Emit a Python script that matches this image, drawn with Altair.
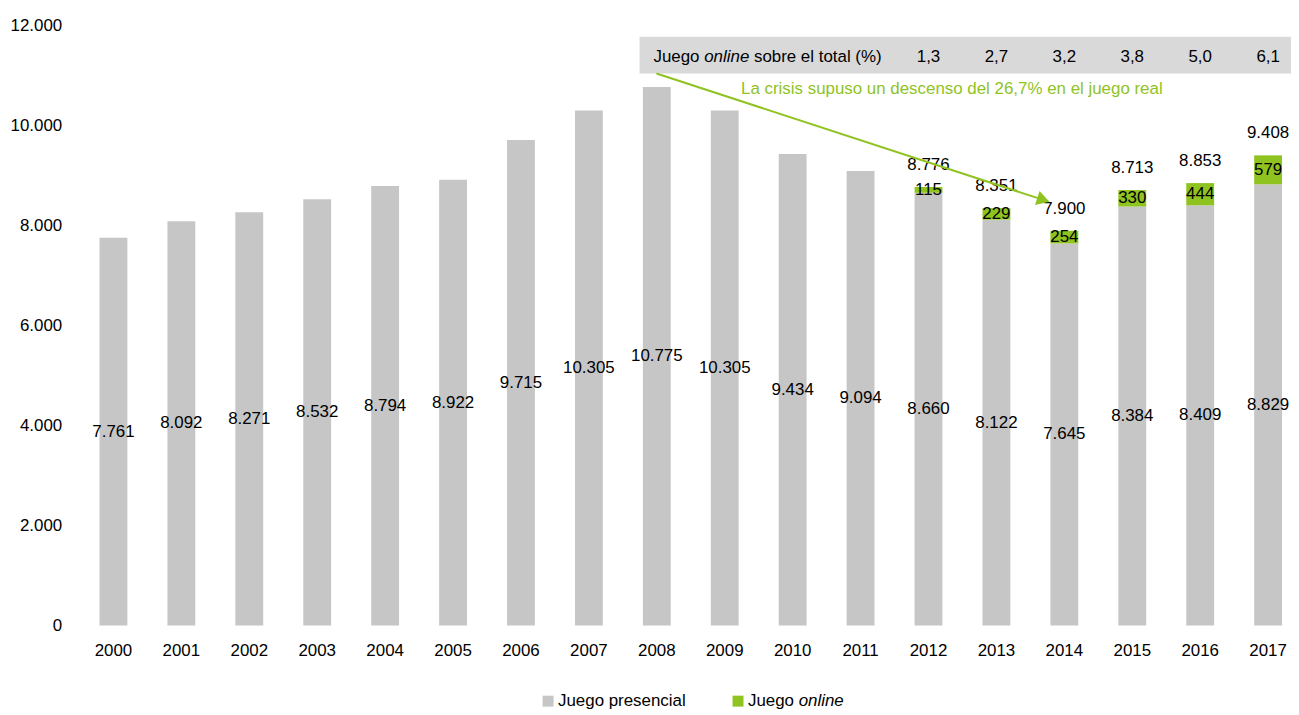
import altair as alt
import pandas as pd

years = [str(y) for y in range(2000, 2018)]
presencial = [7761, 8092, 8271, 8532, 8794, 8922, 9715, 10305, 10775, 10305,
              9434, 9094, 8660, 8122, 7645, 8384, 8409, 8829]
online = [0] * 12 + [115, 229, 254, 330, 444, 579]
totales = [None] * 12 + [8776, 8351, 7900, 8713, 8853, 9408]
pct_online = [None] * 12 + ["1,3", "2,7", "3,2", "3,8", "5,0", "6,1"]

GRAY = "#c6c6c6"
GREEN = "#8fc31f"
NARROW = "Liberation Sans"
REG = "Liberation Sans"
FS = 17

def fmt(v):
    return f"{v:,}".replace(",", ".")

rows = []
for y, p, o in zip(years, presencial, online):
    rows.append({"year": y, "tipo": "Juego presencial", "value": p, "ord": 0})
    if o > 0:
        rows.append({"year": y, "tipo": "Juego online", "value": o, "ord": 1})
bars_df = pd.DataFrame(rows)

lab = pd.DataFrame({
    "year": years,
    "presencial": presencial,
    "online": online,
    "pmid": [p / 2 for p in presencial],
    "omid": [p + o / 2 for p, o in zip(presencial, online)],
    "top": [p + o for p, o in zip(presencial, online)],
    "plab": [fmt(p) for p in presencial],
    "olab": [fmt(o) if o > 0 else "" for o in online],
    "tlab": [fmt(t) if t else "" for t in totales],
    "pct": [p if p else "" for p in pct_online],
})

W, H = 1207, 603

xenc = alt.X("year:O", title=None,
             scale=alt.Scale(paddingInner=0.59, paddingOuter=0.132),
             axis=alt.Axis(labelAngle=0, domain=False, ticks=False,
                           labelFont=NARROW, labelFontSize=FS, labelColor="black",
                           labelPadding=17))
yscale = alt.Scale(domain=[0, 12000], nice=False)

base = alt.Chart(bars_df)
bars = base.mark_bar().encode(
    x=xenc,
    y=alt.Y("value:Q", stack="zero", scale=yscale, title=None,
            axis=alt.Axis(values=list(range(0, 12001, 2000)), grid=False,
                          domain=False, ticks=False, labelFont=REG,
                          labelFontSize=17, labelColor="black", labelPadding=29,
                          labelExpr="replace(format(datum.value, ',d'), ',', '.')")),
    color=alt.Color("tipo:N", legend=None,
                    scale=alt.Scale(domain=["Juego presencial", "Juego online"],
                                    range=[GRAY, GREEN])),
    order=alt.Order("ord:Q"),
)

lbase = alt.Chart(lab)
plabels = lbase.mark_text(font=NARROW, fontSize=FS, color="black").encode(
    x="year:O", y=alt.Y("pmid:Q", scale=yscale), text="plab:N")
olabels = lbase.transform_filter("datum.online > 0").mark_text(
    font=NARROW, fontSize=FS, color="black").encode(
    x="year:O", y=alt.Y("omid:Q", scale=yscale), text="olab:N")
tlabels = lbase.transform_filter("datum.online > 0").mark_text(
    font=NARROW, fontSize=FS, color="black", dy=-22).encode(
    x="year:O", y=alt.Y("top:Q", scale=yscale), text="tlab:N")

band = alt.Chart(pd.DataFrame({"a": [0]})).mark_rect(color="#d9d9d9").encode(
    x=alt.value(552), x2=alt.value(1210), y=alt.value(11), y2=alt.value(48))
pct_labels = lbase.transform_filter("datum.online > 0").mark_text(
    font=NARROW, fontSize=FS, color="black").encode(
    x="year:O", y=alt.value(31), text="pct:N")

one = alt.Chart(pd.DataFrame({"a": [0]}))
t1 = one.mark_text(font=NARROW, fontSize=FS, color="black", align="left").encode(
    x=alt.value(566), y=alt.value(31), text=alt.value("Juego"))
t2 = one.mark_text(font=NARROW, fontSize=FS, color="black", align="left",
                   fontStyle="italic").encode(
    x=alt.value(617), y=alt.value(31), text=alt.value("online"))
t3 = one.mark_text(font=NARROW, fontSize=FS, color="black", align="left").encode(
    x=alt.value(667), y=alt.value(31), text=alt.value("sobre  el total (%)"))

note = one.mark_text(font=NARROW, fontSize=FS, color=GREEN).encode(
    x=alt.value(866), y=alt.value(64),
    text=alt.value("La crisis supuso  un descenso del 26,7%  en el juego real"))
arrow_line = one.mark_rule(color=GREEN, strokeWidth=2).encode(
    x=alt.value(569), y=alt.value(48), x2=alt.value(958), y2=alt.value(175))
arrow_head = one.mark_point(shape="triangle-right", filled=True, color=GREEN,
                            size=220, angle=18, opacity=1).encode(
    x=alt.value(958), y=alt.value(175))

leg_y = 679
leg1 = one.mark_square(color=GRAY, size=121, opacity=1).encode(
    x=alt.value(460), y=alt.value(leg_y))
leg1t = one.mark_text(font=NARROW, fontSize=FS, color="black", align="left").encode(
    x=alt.value(470), y=alt.value(leg_y), text=alt.value("Juego presencial"))
leg2 = one.mark_square(color=GREEN, size=121, opacity=1).encode(
    x=alt.value(651), y=alt.value(leg_y))
leg2t = one.mark_text(font=NARROW, fontSize=FS, color="black", align="left").encode(
    x=alt.value(661), y=alt.value(leg_y), text=alt.value("Juego"))
leg2i = one.mark_text(font=NARROW, fontSize=FS, color="black", align="left",
                      fontStyle="italic").encode(
    x=alt.value(712), y=alt.value(leg_y), text=alt.value("online"))

chart = alt.layer(
    bars, plabels, olabels, tlabels, band, pct_labels, t1, t2, t3,
    note, arrow_line, arrow_head, leg1, leg1t, leg2, leg2t, leg2i,
).properties(
    width=W, height=H,
    autosize=alt.AutoSizeParams(type="none"),
    padding={"left": 83, "top": 16, "right": 0, "bottom": 84},
).configure_view(stroke=None)

chart.save("out.html", embed_options={"renderer": "svg", "actions": False})
